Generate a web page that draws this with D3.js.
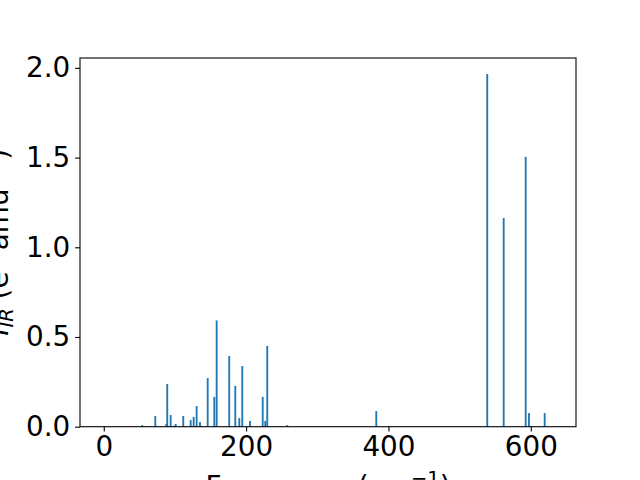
<!DOCTYPE html>
<html>
<head>
<meta charset="utf-8">
<script src="https://cdn.jsdelivr.net/npm/d3@7"></script>
<style>
  body { margin: 0; background: #fff; }
  text { font-family: "DejaVu Sans", sans-serif; }
</style>
</head>
<body>
<script>
// vibrational modes: frequency (cm^-1) and intensity
var freqs = [54, 72.4, 87.8, 89.2, 94, 98.6, 101, 111.7, 122.1, 126.3, 130.5, 135.2, 136.6,
  146, 155.3, 158.6, 176.3, 184.8, 190.4, 194.6, 205.4, 223.3, 226.9, 229.7, 257.8,
  382.9, 538.8, 561.9, 592.8, 597.4, 619.5];
var intens = [0.009, 0.06, 0.015, 0.238, 0.065, 0.005, 0.015, 0.06, 0.037, 0.054, 0.115, 0.026, 0.005,
  0.271, 0.166, 0.592, 0.394, 0.227, 0.048, 0.338, 0.032, 0.166, 0.032, 0.45, 0.009,
  0.0875, 1.966, 1.163, 1.504, 0.076, 0.076];
var xTicks = [0, 200, 400, 600];
var yTicks = [0, 0.5, 1.0, 1.5, 2.0];

//plot area (window.top is reserved, so use a prefix)
var width = 640, height = 480;
var pLeft = 80, pRight = 576, pTop = 58, pBottom = 426.7;
var barW = 2.6; // in data units

var svg = d3.select('body').append('svg')
  .attr('width', width)
  .attr('height', height);

var x = d3.scaleLinear().domain([-33.4, 663.5]).range([pLeft, pRight]);
var y = d3.scaleLinear().domain([0, 2.055]).range([pBottom, pTop]);

//bars
svg.append('g').selectAll('rect')
  .data(freqs)
  .enter().append('rect')
  .attr('x', function(d) { return x(d - barW / 2); })
  .attr('width', function(d) { return x(d + barW / 2) - x(d - barW / 2); })
  .attr('y', function(d, i) { return y(intens[i]); })
  .attr('height', function(d, i) { return pBottom - y(intens[i]); })
  .attr('fill', '#1f77b4');

//axes
var xAxis = svg.append('g')
  .attr('transform', 'translate(0,' + pBottom + ')')
  .call(d3.axisBottom(x).tickValues(xTicks).tickSize(4.9).tickPadding(4.9).tickSizeOuter(0));
var yAxis = svg.append('g')
  .attr('transform', 'translate(' + pLeft + ',0)')
  .call(d3.axisLeft(y).tickValues(yTicks).tickFormat(d3.format('.1f')).tickSize(4.9).tickPadding(4.9).tickSizeOuter(0));

[xAxis, yAxis].forEach(function(a) {
  a.select('.domain').remove();
  a.selectAll('line').attr('stroke', '#000').attr('stroke-width', 1.1);
  a.selectAll('text').attr('font-size', '27.8px').attr('fill', '#000')
    .style('font-family', '"DejaVu Sans", sans-serif');
});

//frame
svg.append('rect')
  .attr('x', pLeft).attr('y', pTop)
  .attr('width', pRight - pLeft).attr('height', pBottom - pTop)
  .attr('fill', 'none').attr('stroke', '#000').attr('stroke-width', 1.1);

//axis labels
var xl = svg.append('text')
  .attr('x', (pLeft + pRight) / 2).attr('y', 496)
  .attr('text-anchor', 'middle').attr('font-size', '27.8px');
xl.append('tspan').text('Frequency (cm');
xl.append('tspan').attr('dy', -11).attr('font-size', '19.5px').text('−1');
xl.append('tspan').attr('dy', 11).text(')');

var yl = svg.append('text')
  .attr('transform', 'translate(8,' + (pTop + pBottom) / 2 + ') rotate(-90)')
  .attr('text-anchor', 'middle').attr('font-size', '27.8px');
yl.append('tspan').attr('font-style', 'italic').text('I');
yl.append('tspan').attr('dy', 5).attr('font-size', '19.5px').attr('font-style', 'italic').text('IR');
yl.append('tspan').attr('dy', -5).text(' (e');
yl.append('tspan').attr('dy', -11).attr('font-size', '19.5px').text('2');
yl.append('tspan').attr('dy', 11).text(' amu');
yl.append('tspan').attr('dy', -11).attr('font-size', '19.5px').text('−1');
yl.append('tspan').attr('dy', 11).text(')');
</script>
</body>
</html>
